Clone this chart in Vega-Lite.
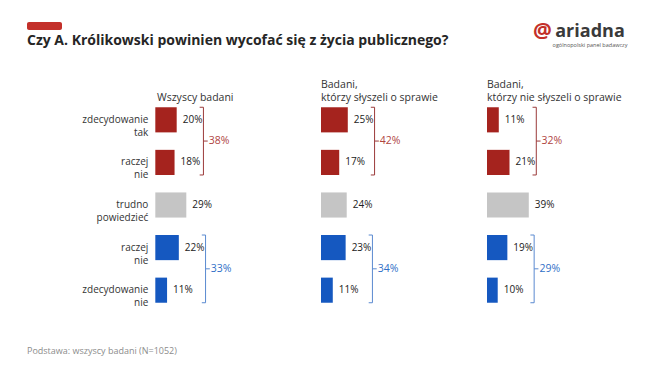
{
  "$schema": "https://vega.github.io/schema/vega-lite/v6.json",
  "background": "white",
  "padding": {"left": 27, "top": 20, "right": 4, "bottom": 4},
  "config": {
    "view": {"stroke": null},
    "font": "Open Sans",
    "text": {"font": "Open Sans"},
    "title": {"font": "Open Sans", "subtitleFont": "Open Sans"}
  },
  "datasets": {
    "rows": [
      {"panel": "P1", "row": 1, "label": "zdecydowanie\ntak", "group": "tak", "value": 20},
      {"panel": "P1", "row": 2, "label": "raczej\nnie", "group": "tak", "value": 18},
      {"panel": "P1", "row": 3, "label": "trudno\npowiedzieć", "group": "trudno", "value": 29},
      {"panel": "P1", "row": 4, "label": "raczej\nnie", "group": "nie", "value": 22},
      {"panel": "P1", "row": 5, "label": "zdecydowanie\nnie", "group": "nie", "value": 11},
      {"panel": "P2", "row": 1, "label": "zdecydowanie\ntak", "group": "tak", "value": 25},
      {"panel": "P2", "row": 2, "label": "raczej\nnie", "group": "tak", "value": 17},
      {"panel": "P2", "row": 3, "label": "trudno\npowiedzieć", "group": "trudno", "value": 24},
      {"panel": "P2", "row": 4, "label": "raczej\nnie", "group": "nie", "value": 23},
      {"panel": "P2", "row": 5, "label": "zdecydowanie\nnie", "group": "nie", "value": 11},
      {"panel": "P3", "row": 1, "label": "zdecydowanie\ntak", "group": "tak", "value": 11},
      {"panel": "P3", "row": 2, "label": "raczej\nnie", "group": "tak", "value": 21},
      {"panel": "P3", "row": 3, "label": "trudno\npowiedzieć", "group": "trudno", "value": 39},
      {"panel": "P3", "row": 4, "label": "raczej\nnie", "group": "nie", "value": 19},
      {"panel": "P3", "row": 5, "label": "zdecydowanie\nnie", "group": "nie", "value": 10}
    ]
  },
  "concat": [
    {
      "concat": [
        {
          "width": 35, "height": 8,
          "view": {"fill": "#c3302a", "stroke": null, "cornerRadius": 2},
          "data": {"values": [{"t": ""}]},
          "mark": {"type": "text"},
          "encoding": {"text": {"field": "t"}},
          "title": {"text": "Czy A. Królikowski powinien wycofać się z życia publicznego?", "orient": "bottom", "anchor": "start", "frame": "bounds", "offset": 3, "fontSize": 14, "fontWeight": "bold", "color": "#262626"}
        },
        {
          "concat": [
            {
              "width": 17, "height": 20,
              "data": {"values": [{"t": "@"}]},
              "mark": {"type": "text", "fontSize": 21, "fontWeight": "bold", "color": "#c3302a", "baseline": "middle"},
              "encoding": {"text": {"field": "t"}}
            },
            {
              "width": 68, "height": 19,
              "data": {"values": [{"t": "ariadna"}]},
              "mark": {"type": "text", "fontSize": 18, "fontWeight": "bold", "color": "#3a3a3a", "baseline": "middle"},
              "encoding": {"text": {"field": "t"}},
              "title": {"text": "ogólnopolski panel badawczy", "orient": "bottom", "anchor": "middle", "offset": 2, "fontSize": 5.5, "fontWeight": "normal", "color": "#555555"}
            }
          ],
          "columns": 2,
          "spacing": 0,
          "align": "none"
        }
      ],
      "columns": 2,
      "spacing": 84,
      "align": "none"
    },
    {
      "title": {"text": "Podstawa: wszyscy badani (N=1052)", "orient": "bottom", "anchor": "start", "frame": "group", "offset": 39, "fontSize": 9, "fontWeight": "normal", "color": "#8c8c8c"},
      "columns": 3,
      "spacing": 16,
      "align": "each",
      "concat": [
        {
          "width": 278, "height": 204,
          "title": {"text": "Wszyscy badani", "anchor": "start", "frame": "group", "dx": 130, "offset": 0, "fontSize": 10.5, "fontWeight": "normal", "color": "#333333", "lineHeight": 13},
          "data": {"name": "rows"},
          "transform": [{"filter": "datum.panel == 'P1'"}],
          "layer": [
            {
              "mark": {"type": "bar"},
              "encoding": {
                "y": {"field": "row", "type": "ordinal", "scale": {"paddingInner": 0.41, "paddingOuter": 0.1}, "axis": null},
                "x": {"field": "value", "type": "quantitative", "scale": {"domain": [-116.4, 136]}, "axis": null},
                "color": {"field": "group", "type": "nominal", "scale": {"domain": ["tak", "trudno", "nie"], "range": ["#a5231e", "#c5c5c5", "#1558c0"]}, "legend": null}
              }
            },
            {
              "transform": [{"calculate": "datum.value + '%'", "as": "pct"}],
              "mark": {"type": "text", "align": "left", "baseline": "middle", "dx": 6, "fontSize": 10, "color": "#222222"},
              "encoding": {
                "y": {"field": "row", "type": "ordinal", "axis": null},
                "x": {"field": "value", "type": "quantitative", "axis": null},
                "text": {"field": "pct"}
              }
            },
            {
              "mark": {"type": "text", "align": "right", "baseline": "middle", "dx": -7, "fontSize": 10, "color": "#333333", "lineBreak": "\n", "lineHeight": 13},
              "encoding": {
                "y": {"field": "row", "type": "ordinal", "axis": null},
                "x": {"datum": 0, "type": "quantitative", "axis": null},
                "text": {"field": "label"}
              }
            },
            {
              "transform": [
                {"filter": "datum.group != 'trudno'"},
                {"aggregate": [{"op": "max", "field": "value", "as": "mx"}, {"op": "sum", "field": "value", "as": "tot"}, {"op": "min", "field": "row", "as": "r1"}, {"op": "max", "field": "row", "as": "r2"}], "groupby": ["group"]},
                {"calculate": "datum.mx + 25", "as": "bx"},
                {"calculate": "datum.bx - 3.5", "as": "bxl"},
                {"calculate": "datum.bx + 4", "as": "bxr"},
                {"calculate": "datum.tot + '%'", "as": "lab"}
              ],
              "layer": [
                {
                  "mark": {"type": "rule", "strokeWidth": 1},
                  "encoding": {
                    "x": {"field": "bx", "type": "quantitative", "axis": null},
                    "y": {"field": "r1", "type": "ordinal", "bandPosition": 0, "axis": null},
                    "y2": {"field": "r2", "bandPosition": 1},
                    "stroke": {"field": "group", "type": "nominal", "scale": {"domain": ["tak", "nie"], "range": ["#9b3a3a", "#5a8ad0"]}, "legend": null}
                  }
                },
                {
                  "mark": {"type": "rule", "strokeWidth": 1},
                  "encoding": {
                    "x": {"field": "bxl", "type": "quantitative", "axis": null},
                    "x2": {"field": "bx"},
                    "y": {"field": "r1", "type": "ordinal", "bandPosition": 0, "axis": null},
                    "stroke": {"field": "group", "type": "nominal", "legend": null}
                  }
                },
                {
                  "mark": {"type": "rule", "strokeWidth": 1},
                  "encoding": {
                    "x": {"field": "bxl", "type": "quantitative", "axis": null},
                    "x2": {"field": "bx"},
                    "y": {"field": "r2", "type": "ordinal", "bandPosition": 1, "axis": null},
                    "stroke": {"field": "group", "type": "nominal", "legend": null}
                  }
                },
                {
                  "mark": {"type": "rule", "strokeWidth": 1},
                  "encoding": {
                    "x": {"field": "bx", "type": "quantitative", "axis": null},
                    "x2": {"field": "bxr"},
                    "y": {"field": "r2", "type": "ordinal", "bandPosition": -0.35, "axis": null},
                    "stroke": {"field": "group", "type": "nominal", "legend": null}
                  }
                },
                {
                  "mark": {"type": "text", "align": "left", "baseline": "middle", "dx": 1, "fontSize": 10.5},
                  "encoding": {
                    "x": {"field": "bxr", "type": "quantitative", "axis": null},
                    "y": {"field": "r2", "type": "ordinal", "bandPosition": -0.35, "axis": null},
                    "text": {"field": "lab"},
                    "fill": {"field": "group", "type": "nominal", "scale": {"domain": ["tak", "nie"], "range": ["#b0443f", "#2f6fc7"]}, "legend": null}
                  }
                }
              ]
            }
          ]
        },
        {
          "width": 150, "height": 204,
          "title": {"text": ["Badani,", "którzy słyszeli o sprawie"], "anchor": "start", "frame": "group", "offset": 0, "fontSize": 10.5, "fontWeight": "normal", "color": "#333333", "lineHeight": 13},
          "data": {"name": "rows"},
          "transform": [{"filter": "datum.panel == 'P2'"}],
          "layer": [
            {
              "mark": {"type": "bar"},
              "encoding": {
                "y": {"field": "row", "type": "ordinal", "scale": {"paddingInner": 0.41, "paddingOuter": 0.1}, "axis": null},
                "x": {"field": "value", "type": "quantitative", "scale": {"domain": [0, 136.2]}, "axis": null},
                "color": {"field": "group", "type": "nominal", "scale": {"domain": ["tak", "trudno", "nie"], "range": ["#a5231e", "#c5c5c5", "#1558c0"]}, "legend": null}
              }
            },
            {
              "transform": [{"calculate": "datum.value + '%'", "as": "pct"}],
              "mark": {"type": "text", "align": "left", "baseline": "middle", "dx": 6, "fontSize": 10, "color": "#222222"},
              "encoding": {
                "y": {"field": "row", "type": "ordinal", "axis": null},
                "x": {"field": "value", "type": "quantitative", "axis": null},
                "text": {"field": "pct"}
              }
            },
            {
              "transform": [
                {"filter": "datum.group != 'trudno'"},
                {"aggregate": [{"op": "max", "field": "value", "as": "mx"}, {"op": "sum", "field": "value", "as": "tot"}, {"op": "min", "field": "row", "as": "r1"}, {"op": "max", "field": "row", "as": "r2"}], "groupby": ["group"]},
                {"calculate": "datum.mx + 25", "as": "bx"},
                {"calculate": "datum.bx - 3.5", "as": "bxl"},
                {"calculate": "datum.bx + 4", "as": "bxr"},
                {"calculate": "datum.tot + '%'", "as": "lab"}
              ],
              "layer": [
                {
                  "mark": {"type": "rule", "strokeWidth": 1},
                  "encoding": {
                    "x": {"field": "bx", "type": "quantitative", "axis": null},
                    "y": {"field": "r1", "type": "ordinal", "bandPosition": 0, "axis": null},
                    "y2": {"field": "r2", "bandPosition": 1},
                    "stroke": {"field": "group", "type": "nominal", "scale": {"domain": ["tak", "nie"], "range": ["#9b3a3a", "#5a8ad0"]}, "legend": null}
                  }
                },
                {
                  "mark": {"type": "rule", "strokeWidth": 1},
                  "encoding": {
                    "x": {"field": "bxl", "type": "quantitative", "axis": null},
                    "x2": {"field": "bx"},
                    "y": {"field": "r1", "type": "ordinal", "bandPosition": 0, "axis": null},
                    "stroke": {"field": "group", "type": "nominal", "legend": null}
                  }
                },
                {
                  "mark": {"type": "rule", "strokeWidth": 1},
                  "encoding": {
                    "x": {"field": "bxl", "type": "quantitative", "axis": null},
                    "x2": {"field": "bx"},
                    "y": {"field": "r2", "type": "ordinal", "bandPosition": 1, "axis": null},
                    "stroke": {"field": "group", "type": "nominal", "legend": null}
                  }
                },
                {
                  "mark": {"type": "rule", "strokeWidth": 1},
                  "encoding": {
                    "x": {"field": "bx", "type": "quantitative", "axis": null},
                    "x2": {"field": "bxr"},
                    "y": {"field": "r2", "type": "ordinal", "bandPosition": -0.35, "axis": null},
                    "stroke": {"field": "group", "type": "nominal", "legend": null}
                  }
                },
                {
                  "mark": {"type": "text", "align": "left", "baseline": "middle", "dx": 1, "fontSize": 10.5},
                  "encoding": {
                    "x": {"field": "bxr", "type": "quantitative", "axis": null},
                    "y": {"field": "r2", "type": "ordinal", "bandPosition": -0.35, "axis": null},
                    "text": {"field": "lab"},
                    "fill": {"field": "group", "type": "nominal", "scale": {"domain": ["tak", "nie"], "range": ["#b0443f", "#2f6fc7"]}, "legend": null}
                  }
                }
              ]
            }
          ]
        },
        {
          "width": 150, "height": 204,
          "title": {"text": ["Badani,", "którzy nie słyszeli o sprawie"], "anchor": "start", "frame": "group", "offset": 0, "fontSize": 10.5, "fontWeight": "normal", "color": "#333333", "lineHeight": 13},
          "data": {"name": "rows"},
          "transform": [{"filter": "datum.panel == 'P3'"}],
          "layer": [
            {
              "mark": {"type": "bar"},
              "encoding": {
                "y": {"field": "row", "type": "ordinal", "scale": {"paddingInner": 0.41, "paddingOuter": 0.1}, "axis": null},
                "x": {"field": "value", "type": "quantitative", "scale": {"domain": [0, 136.2]}, "axis": null},
                "color": {"field": "group", "type": "nominal", "scale": {"domain": ["tak", "trudno", "nie"], "range": ["#a5231e", "#c5c5c5", "#1558c0"]}, "legend": null}
              }
            },
            {
              "transform": [{"calculate": "datum.value + '%'", "as": "pct"}],
              "mark": {"type": "text", "align": "left", "baseline": "middle", "dx": 6, "fontSize": 10, "color": "#222222"},
              "encoding": {
                "y": {"field": "row", "type": "ordinal", "axis": null},
                "x": {"field": "value", "type": "quantitative", "axis": null},
                "text": {"field": "pct"}
              }
            },
            {
              "transform": [
                {"filter": "datum.group != 'trudno'"},
                {"aggregate": [{"op": "max", "field": "value", "as": "mx"}, {"op": "sum", "field": "value", "as": "tot"}, {"op": "min", "field": "row", "as": "r1"}, {"op": "max", "field": "row", "as": "r2"}], "groupby": ["group"]},
                {"calculate": "datum.mx + 25", "as": "bx"},
                {"calculate": "datum.bx - 3.5", "as": "bxl"},
                {"calculate": "datum.bx + 4", "as": "bxr"},
                {"calculate": "datum.tot + '%'", "as": "lab"}
              ],
              "layer": [
                {
                  "mark": {"type": "rule", "strokeWidth": 1},
                  "encoding": {
                    "x": {"field": "bx", "type": "quantitative", "axis": null},
                    "y": {"field": "r1", "type": "ordinal", "bandPosition": 0, "axis": null},
                    "y2": {"field": "r2", "bandPosition": 1},
                    "stroke": {"field": "group", "type": "nominal", "scale": {"domain": ["tak", "nie"], "range": ["#9b3a3a", "#5a8ad0"]}, "legend": null}
                  }
                },
                {
                  "mark": {"type": "rule", "strokeWidth": 1},
                  "encoding": {
                    "x": {"field": "bxl", "type": "quantitative", "axis": null},
                    "x2": {"field": "bx"},
                    "y": {"field": "r1", "type": "ordinal", "bandPosition": 0, "axis": null},
                    "stroke": {"field": "group", "type": "nominal", "legend": null}
                  }
                },
                {
                  "mark": {"type": "rule", "strokeWidth": 1},
                  "encoding": {
                    "x": {"field": "bxl", "type": "quantitative", "axis": null},
                    "x2": {"field": "bx"},
                    "y": {"field": "r2", "type": "ordinal", "bandPosition": 1, "axis": null},
                    "stroke": {"field": "group", "type": "nominal", "legend": null}
                  }
                },
                {
                  "mark": {"type": "rule", "strokeWidth": 1},
                  "encoding": {
                    "x": {"field": "bx", "type": "quantitative", "axis": null},
                    "x2": {"field": "bxr"},
                    "y": {"field": "r2", "type": "ordinal", "bandPosition": -0.35, "axis": null},
                    "stroke": {"field": "group", "type": "nominal", "legend": null}
                  }
                },
                {
                  "mark": {"type": "text", "align": "left", "baseline": "middle", "dx": 1, "fontSize": 10.5},
                  "encoding": {
                    "x": {"field": "bxr", "type": "quantitative", "axis": null},
                    "y": {"field": "r2", "type": "ordinal", "bandPosition": -0.35, "axis": null},
                    "text": {"field": "lab"},
                    "fill": {"field": "group", "type": "nominal", "scale": {"domain": ["tak", "nie"], "range": ["#b0443f", "#2f6fc7"]}, "legend": null}
                  }
                }
              ]
            }
          ]
        }
      ]
    }
  ],
  "columns": 1,
  "spacing": 30,
  "align": "none"
}
